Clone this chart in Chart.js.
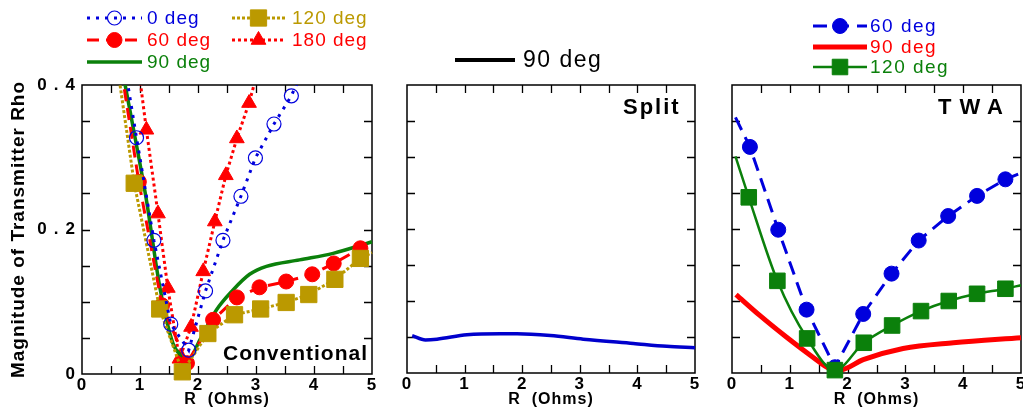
<!DOCTYPE html>
<html>
<head>
<meta charset="utf-8">
<script src="https://cdn.jsdelivr.net/npm/chart.js@4.4.1/dist/chart.umd.min.js"></script>
<style>
  body { margin: 0; background: #fff; }
  #wrap { position: relative; width: 1023px; height: 408px; overflow: hidden; }
  canvas { position: absolute; top: 0; }
</style>
</head>
<body>
<div id="wrap">
  <canvas id="conv" width="380" height="408" style="left:0px"></canvas>
  <canvas id="split" width="320" height="408" style="left:385px"></canvas>
  <canvas id="twa" width="318" height="408" style="left:705px"></canvas>
</div>
<script>
// ---- data: R (Ohms) and |rho| ----
// Conventional
const r0deg = [0.75, 0.94, 1.24, 1.53, 1.84, 2.13, 2.43, 2.74, 2.99, 3.31, 3.61, 3.75];
const rho0deg = [0.42, 0.327, 0.185, 0.069, 0.033, 0.115, 0.185, 0.246, 0.299, 0.346, 0.385, 0.41];
const r60deg = [0.68, 0.98, 1.38, 1.81, 2.26, 2.67, 3.06, 3.52, 3.97, 4.34, 4.80, 5.0];
const rho60deg = [0.42, 0.266, 0.095, 0.015, 0.075, 0.106, 0.120, 0.128, 0.138, 0.153, 0.174, 0.180];
const r90deg = [0.72, 0.88, 1.11, 1.34, 1.57, 1.75, 1.85, 2.03, 2.32, 2.60, 2.89, 3.18, 3.75, 4.33, 5.0];
const rho90deg = [0.41, 0.342, 0.241, 0.121, 0.042, 0.024, 0.022, 0.047, 0.089, 0.116, 0.138, 0.149, 0.158, 0.167, 0.183];
const r120deg = [0.62, 0.90, 1.34, 1.73, 2.17, 2.63, 3.08, 3.52, 3.91, 4.36, 4.80, 5.0];
const rho120deg = [0.42, 0.264, 0.090, 0.003, 0.056, 0.082, 0.090, 0.099, 0.110, 0.131, 0.160, 0.168];
const r180deg = [0.98, 1.11, 1.31, 1.48, 1.68, 1.88, 2.09, 2.29, 2.48, 2.67, 2.88, 3.0];
const rho180deg = [0.42, 0.338, 0.222, 0.119, 0.021, 0.065, 0.142, 0.211, 0.275, 0.326, 0.375, 0.41];
// Split
const rSplit = [0.09, 0.32, 0.52, 1.04, 1.62, 1.91, 2.49, 3.06, 3.93, 4.51, 5.0];
const rhoSplit = [0.052, 0.046, 0.047, 0.053, 0.0545, 0.0545, 0.052, 0.047, 0.041, 0.037, 0.035];
// TWA
const rTwa60 = [0.06, 0.31, 0.80, 1.29, 1.78, 2.27, 2.76, 3.23, 3.74, 4.24, 4.73, 5.0];
const rhoTwa60 = [0.355, 0.314, 0.199, 0.088, 0.008, 0.082, 0.138, 0.184, 0.218, 0.246, 0.269, 0.278];
const rTwa90 = [0.07, 0.48, 0.94, 1.40, 1.69, 1.86, 2.27, 2.96, 3.83, 5.0];
const rhoTwa90 = [0.109, 0.080, 0.050, 0.022, 0.006, 0.004, 0.0185, 0.034, 0.042, 0.049];
const rTwa120 = [0.06, 0.29, 0.785, 1.30, 1.78, 2.28, 2.77, 3.27, 3.75, 4.24, 4.73, 5.0];
const rhoTwa120 = [0.301, 0.244, 0.128, 0.048, 0.004, 0.042, 0.066, 0.086, 0.100, 0.110, 0.117, 0.122];

const xTicks = [0, 1, 2, 3, 4, 5];
const yTicks = [0, 0.2, 0.4];

const FONT = "'Liberation Sans', Arial, sans-serif";
const BLUE = '#0000dd', RED = '#ff0000', GREEN = '#0b800b', OLIVE = '#bb9900';

function pts(xs, ys) {
  return xs.map((x, i) => ({ x: x, y: ys[i] }));
}
// first and last points only carry the line to the frame, no marker
function bareEnds(r) {
  return ctx => (ctx.dataIndex === 0 || ctx.dataIndex === ctx.dataset.data.length - 1) ? 0 : r;
}

function drawMarker(ctx, ds, r, x, y) {
  ctx.save();
  ctx.setLineDash([]);
  ctx.fillStyle = ds.pointBackgroundColor || ds.borderColor;
  ctx.strokeStyle = ds.pointBorderColor || ds.borderColor;
  ctx.lineWidth = ds.pointBorderWidth || 1;
  ctx.beginPath();
  if (ds.pointStyle === 'rect') {
    const s = r * Math.SQRT1_2;
    ctx.rect(x - s, y - s, 2 * s, 2 * s);
  } else if (ds.pointStyle === 'triangle') {
    ctx.moveTo(x, y - r);
    ctx.lineTo(x + r * 0.866, y + r * 0.5);
    ctx.lineTo(x - r * 0.866, y + r * 0.5);
    ctx.closePath();
  } else {
    ctx.arc(x, y, r, 0, Math.PI * 2);
  }
  ctx.fill();
  ctx.stroke();
  ctx.restore();
}

const framePlugin = {
  id: 'frame',
  beforeDatasetsDraw(chart) {
    const { ctx, chartArea: a, scales: { x, y } } = chart;
    ctx.save();
    ctx.strokeStyle = '#000';
    ctx.lineWidth = 1.5;
    ctx.strokeRect(a.left, a.top, a.right - a.left, a.bottom - a.top);
    ctx.lineWidth = 1.3;
    ctx.beginPath();
    for (let k = 1; k < 10; k++) {
      const px = Math.round(x.getPixelForValue(k * 0.5)) + 0.5;
      ctx.moveTo(px, a.bottom); ctx.lineTo(px, a.bottom - 8);
      ctx.moveTo(px, a.top); ctx.lineTo(px, a.top + 8);
    }
    for (let k = 1; k < 8; k++) {
      const py = Math.round(y.getPixelForValue(k * 0.05)) + 0.5;
      ctx.moveTo(a.left, py); ctx.lineTo(a.left + 8, py);
      ctx.moveTo(a.right, py); ctx.lineTo(a.right - 8, py);
    }
    ctx.stroke();
    ctx.restore();
  }
};

function makeChart(id, datasets, cfg) {
  const off = cfg.offset;
  const extras = {
    id: 'extras',
    beforeDraw(chart) { chart.ctx.letterSpacing = '1px'; },
    afterDatasetsDraw(chart) { chart.ctx.letterSpacing = cfg.yTickSpacing || '1px'; },
    afterDraw(chart) {
      const ctx = chart.ctx;
      ctx.save();
      // panel name
      ctx.letterSpacing = cfg.label.spacing;
      ctx.font = cfg.label.font;
      ctx.fillStyle = '#000';
      ctx.textBaseline = 'middle';
      ctx.textAlign = 'left';
      ctx.fillText(cfg.label.text, cfg.label.x - off, cfg.label.y);
      // legend
      ctx.letterSpacing = cfg.legend.spacing;
      ctx.font = cfg.legend.font;
      cfg.legend.items.forEach(it => {
        const ds = it.ds != null ? chart.data.datasets[it.ds] : it;
        const x0 = it.x0 - off, x1 = it.x1 - off;
        ctx.strokeStyle = ds.borderColor;
        ctx.lineWidth = it.lw || ds.borderWidth;
        ctx.setLineDash(ds.borderDash || []);
        ctx.beginPath();
        ctx.moveTo(x0, it.y);
        ctx.lineTo(x1, it.y);
        ctx.stroke();
        ctx.setLineDash([]);
        if (it.r) drawMarker(ctx, ds, it.r, (x0 + x1) / 2, it.y);
        ctx.fillStyle = it.color || ds.borderColor;
        ctx.fillText(it.text || ds.label, it.tx - off, it.y + 1);
      });
      ctx.restore();
      ctx.letterSpacing = '0px';
    }
  };

  const yTickOpts = cfg.yLabels ? {
    stepSize: 0.05, z: 1, padding: 0, color: '#000',
    font: { family: FONT, size: 17, weight: 'bold' },
    callback: v => {
      const t = yTicks.find(q => Math.abs(q - v) < 1e-6);
      return t === undefined ? '' : String(t);
    }
  } : { display: false, stepSize: 0.05 };

  return new Chart(document.getElementById(id), {
    type: 'line',
    data: { datasets: datasets },
    options: {
      responsive: false,
      animation: false,
      events: [],
      layout: { padding: { top: 85, right: cfg.padRight, left: 0, bottom: 0 } },
      elements: { line: { fill: false } },
      plugins: { legend: { display: false }, tooltip: { enabled: false } },
      scales: {
        x: {
          type: 'linear', min: 0, max: 5,
          grid: { display: false, drawTicks: false },
          border: { display: false },
          ticks: {
            stepSize: 0.5, autoSkip: false, maxRotation: 0, padding: 1, color: '#000',
            font: { family: FONT, size: 17, weight: 'bold' },
            callback: v => xTicks.includes(v) ? String(v) : ''
          },
          title: {
            display: true, text: 'R  (Ohms)', color: '#000',
            font: { family: FONT, size: 16, weight: 'bold', lineHeight: 1 },
            padding: { top: 0, bottom: 0 }
          },
          afterFit: s => { s.height = cfg.xHeight; s.paddingLeft = 0; s.paddingRight = 0; }
        },
        y: {
          min: 0, max: 0.4,
          grid: { display: false, drawTicks: false },
          border: { display: false },
          ticks: yTickOpts,
          title: {
            display: !!cfg.yTitle, text: cfg.yTitle || '', color: '#000',
            font: { family: FONT, size: 19, weight: 'bold', lineHeight: 1 },
            padding: { top: 9, bottom: 0 }
          },
          afterFit: s => { s.width = cfg.yWidth; s.paddingTop = 0; s.paddingBottom = 0; }
        }
      }
    },
    plugins: [framePlugin, extras]
  });
}

const CLIP = { left: 15, right: 15, top: 0, bottom: 15 };

// ---- Conventional ----
makeChart('conv', [
  { label: '0 deg', data: pts(r0deg, rho0deg), borderColor: BLUE, borderWidth: 3, borderDash: [3, 6],
    pointStyle: 'circle', pointRadius: bareEnds(7), pointBackgroundColor: 'rgba(0,0,0,0)',
    pointBorderColor: BLUE, pointBorderWidth: 1.2, clip: CLIP },
  { label: '120 deg', data: pts(r120deg, rho120deg), borderColor: OLIVE, borderWidth: 3, borderDash: [3, 2],
    pointStyle: 'rect', pointRadius: bareEnds(11.5), pointBackgroundColor: OLIVE, pointBorderColor: OLIVE,
    pointBorderWidth: 1, clip: CLIP },
  { label: '60 deg', data: pts(r60deg, rho60deg), borderColor: RED, borderWidth: 3, borderDash: [12, 7],
    pointStyle: 'circle', pointRadius: bareEnds(7.5), pointBackgroundColor: RED, pointBorderColor: RED,
    pointBorderWidth: 1, clip: CLIP },
  { label: '90 deg', data: pts(r90deg, rho90deg), borderColor: GREEN, borderWidth: 3.5, pointRadius: 0,
    cubicInterpolationMode: 'monotone', clip: CLIP },
  { label: '180 deg', data: pts(r180deg, rho180deg), borderColor: RED, borderWidth: 3, borderDash: [3, 3],
    pointStyle: 'triangle', pointRadius: bareEnds(8.5), pointBackgroundColor: RED, pointBorderColor: RED,
    pointBorderWidth: 1, clip: CLIP }
], {
  offset: 0, yWidth: 82, padRight: 8, xHeight: 34, yLabels: true, yTickSpacing: '7px',
  yTitle: 'Magnitude of Transmitter Rho',
  label: { text: 'Conventional', x: 223, y: 354, font: 'bold 21px ' + FONT, spacing: '1px' },
  legend: {
    font: '19px ' + FONT, spacing: '1px',
    items: [
      { ds: 0, x0: 87, x1: 142, y: 18, tx: 147, r: 7 },
      { ds: 2, x0: 87, x1: 142, y: 40, tx: 147, r: 7.5 },
      { ds: 3, x0: 87, x1: 142, y: 62, tx: 147 },
      { ds: 1, x0: 232, x1: 285, y: 18, tx: 292, r: 11.5 },
      { ds: 4, x0: 232, x1: 285, y: 40, tx: 292, r: 8.5 }
    ]
  }
});

// ---- Split ----
makeChart('split', [
  { label: '90 deg', data: pts(rSplit, rhoSplit), borderColor: '#0000cc', borderWidth: 3.5, pointRadius: 0,
    cubicInterpolationMode: 'monotone', clip: CLIP }
], {
  offset: 385, yWidth: 22, padRight: 10, xHeight: 35, yLabels: false,
  label: { text: 'Split', x: 623, y: 108, font: 'bold 22px ' + FONT, spacing: '2px' },
  legend: {
    font: '23px ' + FONT, spacing: '1.5px',
    items: [
      { text: '90 deg', borderColor: '#000', borderWidth: 4, color: '#000', x0: 455, x1: 515, y: 60, tx: 523 }
    ]
  }
});

// ---- TWA ----
makeChart('twa', [
  { label: '120 deg', data: pts(rTwa120, rhoTwa120), borderColor: GREEN, borderWidth: 2.5,
    pointStyle: 'rect', pointRadius: bareEnds(11), pointBackgroundColor: GREEN, pointBorderColor: GREEN,
    pointBorderWidth: 1, cubicInterpolationMode: 'monotone', clip: CLIP },
  { label: '60 deg', data: pts(rTwa60, rhoTwa60), borderColor: BLUE, borderWidth: 3, borderDash: [14, 8],
    pointStyle: 'circle', pointRadius: bareEnds(7.5), pointBackgroundColor: BLUE, pointBorderColor: BLUE,
    pointBorderWidth: 1, clip: CLIP },
  { label: '90 deg', data: pts(rTwa90, rhoTwa90), borderColor: RED, borderWidth: 5, pointRadius: 0,
    cubicInterpolationMode: 'monotone', clip: CLIP }
], {
  offset: 705, yWidth: 27, padRight: 2, xHeight: 35, yLabels: false,
  label: { text: 'TWA', x: 938, y: 108, font: 'bold 22px ' + FONT, spacing: '8px' },
  legend: {
    font: '19px ' + FONT, spacing: '1.5px',
    items: [
      { ds: 1, x0: 813, x1: 867, y: 26, tx: 870, r: 7.5 },
      { ds: 2, x0: 813, x1: 867, y: 47, tx: 870 },
      { ds: 0, x0: 813, x1: 867, y: 67, tx: 870, r: 11 }
    ]
  }
});
</script>
</body>
</html>
